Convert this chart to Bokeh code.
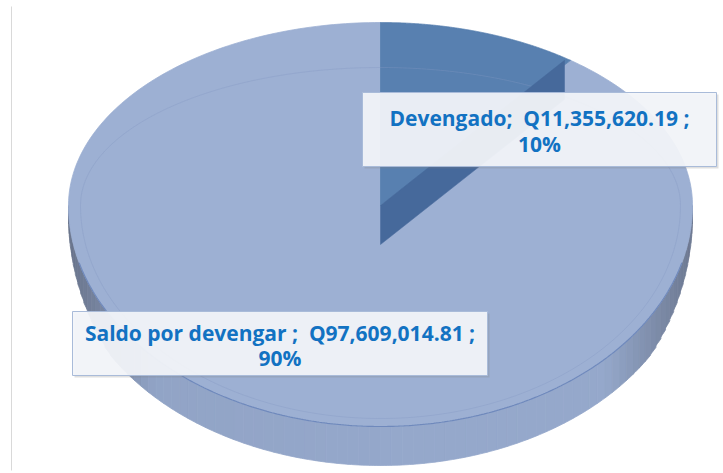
import numpy as np
from bokeh.plotting import figure
from bokeh.models import Range1d
from bokeh.core.properties import value
from bokeh.embed import file_html
from bokeh.resources import INLINE

# ---- data ----
categories = ["Devengado", "Saldo por devengar"]
amounts = [11355620.19, 97609014.81]
amount_labels = ["Q11,355,620.19", "Q97,609,014.81"]
percent_labels = ["10%", "90%"]

# ---- geometry (layout) ----
W, H = 723, 473
cx, cy = 380.0, 205.0
rx = 312.0
ry_back, ry_front = 183.0, 221.0
depth = 39.0

top_colors = ["#5880B0", "#9DB0D3"]
wall_color = "#46699B"

def rim(t_deg):
    t = np.radians(np.asarray(t_deg, dtype=float))
    s = np.sin(t)
    ry = np.where(s > 0, ry_back, ry_front)
    return cx + rx * np.cos(t), cy - ry * s

fr = np.array(amounts) / sum(amounts)
starts, ends = [], []
a = 90.0
for f in fr:
    starts.append(a)
    a = a - f * 360.0
    ends.append(a)

p = figure(width=W, height=H, output_backend="svg", toolbar_location=None,
           x_range=Range1d(0, W), y_range=Range1d(H, 0), min_border=0)
p.axis.visible = False
p.grid.visible = False
p.outline_line_color = None
p.background_fill_color = "white"
p.border_fill_color = "white"

# thin frame line on the left
p.segment(x0=[11], y0=[6], x1=[11], y1=[470], line_color="#D9D9D9", line_width=1)

# ---- side (front half) with shading strips ----
xs_s, ys_s, cs = [], [], []
step = 2.0
for t0 in np.arange(180.0, 360.0, step):
    tt = np.linspace(t0, t0 + step, 4)
    x, y = rim(tt)
    c = np.cos(np.radians(t0 + step / 2))
    d = depth * (0.25 + 0.75 * min(1.0, abs(np.sin(np.radians(t0 + step / 2))) / 0.5))
    px = list(x) + list(x[::-1])
    py = list(y) + list((y + d)[::-1])
    k = 1.0 - 0.55 * max(0.0, abs(c) - 0.72) / 0.28
    if c < 0:
        k -= 0.06 * abs(c)
    base = np.array([0x95, 0xA8, 0xCB], dtype=float)
    dark = np.array([0x4C, 0x52, 0x62], dtype=float)
    col = dark + (base - dark) * max(0.0, min(1.0, k))
    hexc = "#%02x%02x%02x" % tuple(int(v) for v in col)
    xs_s.append(px); ys_s.append(py); cs.append(hexc)
p.patches(xs_s, ys_s, fill_color=cs, line_color=cs, line_width=0.8)

# ---- top faces ----
for i in [1, 0]:
    tt = np.linspace(starts[i], ends[i], 300)
    x, y = rim(tt)
    px = [cx] + list(x) + [cx]
    py = [cy] + list(y) + [cy]
    p.patch(px, py, fill_color=top_colors[i], line_color=top_colors[i], line_width=0.8)

# faint inner bevel ellipse
ti = np.linspace(0, 360, 400)
tr = np.radians(ti)
sx = cx + (rx - 12) * np.cos(tr)
sy = cy - np.where(np.sin(tr) > 0, ry_back - 45, ry_front - 8) * np.sin(tr)
p.line(sx, sy, line_color="#8498C2", line_width=1, line_alpha=0.35)

# front rim line
fx, fy = rim(np.linspace(195, 345, 300))
p.line(fx, fy, line_color="#6F89BC", line_width=1.2)

# ---- visible cut wall of the small slice ----
ex, ey = rim([ends[0]])
wx = [cx, float(ex[0]) - 6, float(ex[0]) - 6, cx]
wy = [cy, float(ey[0]), float(ey[0]) + depth, cy + depth]
p.patch(wx, wy, fill_color=wall_color, line_color=wall_color, line_width=0.5)

# ---- data labels ----
label_boxes = [(539, 129, 354, 74), (279.5, 343, 415, 64)]
line_offsets = [(-12, 14), (-11, 14)]
font = value("Open Sans")
for i, (bxc, byc, bw, bh) in enumerate(label_boxes):
    p.rect([bxc + 2], [byc + 2], width=bw, height=bh, fill_color="#7F7F7F",
           fill_alpha=0.25, line_color=None)
    p.rect([bxc], [byc], width=bw, height=bh, fill_color="#F3F5FA",
           fill_alpha=0.93, line_color="#A9BBD9", line_width=1)
    l1 = categories[i] + (";\u00a0 " if i == 0 else " ;\u00a0 ") + amount_labels[i] + " ;"
    l2 = percent_labels[i]
    p.text([bxc, bxc], [byc + line_offsets[i][0], byc + line_offsets[i][1]], text=[l1, l2],
           text_align="center", text_baseline="middle", text_font=font,
           text_font_style="bold", text_font_size="21px", text_color="#1272C2")

open("out.html", "w").write(file_html(p, INLINE))
